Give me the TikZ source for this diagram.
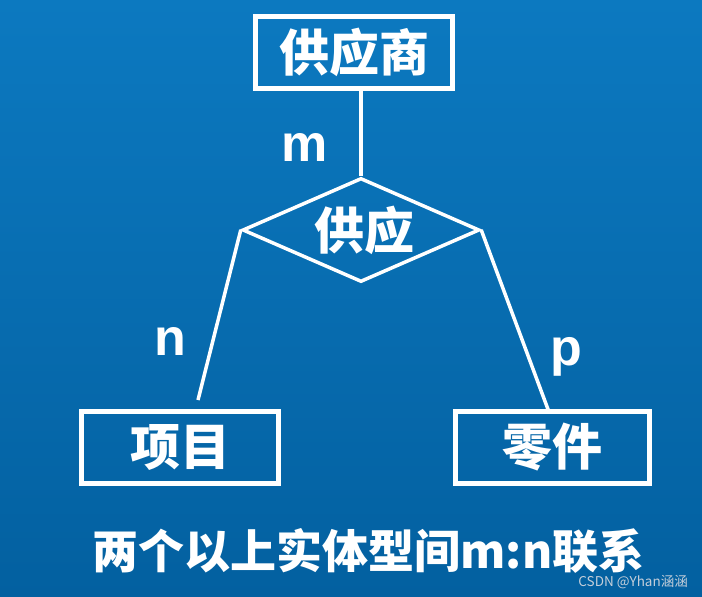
\documentclass[tikz,border=0pt]{standalone}
\usepackage{fontspec}
\usepackage{xcolor}
\usetikzlibrary{shapes.geometric}

\newfontfamily\cjk{Noto Sans CJK SC}
\newfontfamily\latin{Liberation Sans}

\definecolor{bgtop}{RGB}{12,121,192}
\definecolor{bgbottom}{RGB}{3,96,160}
\definecolor{wmgray}{RGB}{196,206,218}

\tikzset{
  entity/.style={rectangle,
      draw=white,
      line width=5pt,
      minimum width=197pt,
      minimum height=72pt,
      inner sep=0pt,
      text=white,
      font=\cjk\bfseries\fontsize{50}{60}\selectfont},
  relation/.style={diamond,
      draw=white,
      line width=3.5pt,
      aspect=2.28,
      minimum width=237pt,
      minimum height=104pt,
      inner sep=0pt,
      text=white,
      font=\cjk\bfseries\fontsize{50}{60}\selectfont},
  link/.style={draw=white, line width=3.5pt},
  card/.style={anchor=base,
      inner sep=0pt,
      text=white,
      font=\latin\bfseries\fontsize{52}{60}\selectfont},
}

\begin{document}
\begin{tikzpicture}[x=1pt, y=-1pt]
% background
\shade[top color=bgtop, bottom color=bgbottom] (0,0) rectangle (702,597);
\useasboundingbox (0,0) rectangle (702,597);

% entities and relation
\node[entity] (supplier) at (354,52.5) {供应商};
\node[relation] (supply) at (361,230) {\hspace*{6pt}供应};
\node[entity] (project) at (180,447.5) {项目};
\node[entity, minimum width=194pt] (part) at (552.5,447.5) {零件};

% free ends of the links
\coordinate (projectEnd) at (198,400);
\coordinate (partEnd) at (549,412);

\draw[link, line width=4pt] (supply.north |- supplier.south) -- (supply.north);
\draw[link] (supply.west) -- (projectEnd);
\draw[link] (supply.east) -- (partEnd);

% cardinalities
\node[card] (cardM) at (305,161) {m};
\node[card] (cardN) at (170,355) {n};
\node[card] (cardP) at (566,365) {p};

% caption
\node[text=white, font=\cjk\bfseries\fontsize{46}{54}\selectfont, inner sep=0pt]
  (caption) at (368.5,551) {两个以上实体型间m:n联系};

\node[text=wmgray, font=\cjk\fontsize{13.5}{16}\selectfont, inner sep=0pt, anchor=base east]
  (watermark) at (688,586) {CSDN @Yhan涵涵};
\end{tikzpicture}
\end{document}
